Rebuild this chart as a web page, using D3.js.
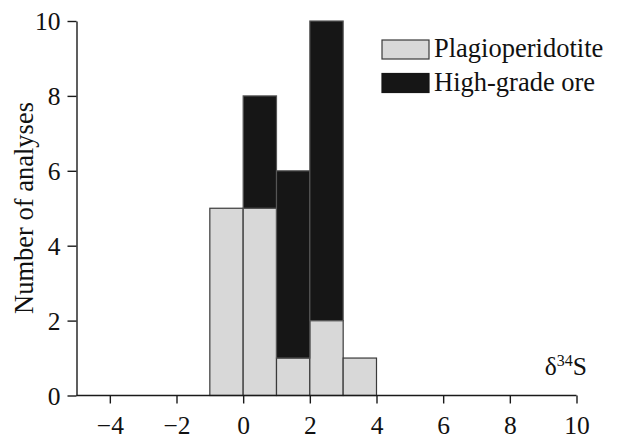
<!DOCTYPE html>
<html><head><meta charset="utf-8">
<script src="https://cdn.jsdelivr.net/npm/d3@7"></script>
<style>body{margin:0;background:#fff}svg{display:block}text{font-family:"Liberation Serif","Times New Roman",serif;fill:#111}</style>
</head><body>
<script>
const binStarts = [-1, 0, 1, 2, 3];
const binWidth = 1;
const plagioperidotite = [5, 5, 1, 2, 1];
const highGradeOre = [0, 3, 5, 8, 0];
const seriesNames = ["Plagioperidotite", "High-grade ore"];
const xTicks = [-4, -2, 0, 2, 4, 6, 8, 10];
const yTicks = [0, 2, 4, 6, 8, 10];

const W = 617, H = 438;
const svg = d3.select("body").append("svg").attr("width", W).attr("height", H);
const x = d3.scaleLinear().domain([-5, 10]).range([76.5, 576.5]);
const y = d3.scaleLinear().domain([0, 10]).range([395.5, 21]);
const colors = {"Plagioperidotite": "#d8d8d8", "High-grade ore": "#161616"};

const rows = binStarts.map((b, i) => ({x0: b, "Plagioperidotite": plagioperidotite[i], "High-grade ore": highGradeOre[i]}));
const stacked = d3.stack().keys(seriesNames)(rows);

stacked.forEach(s => {
  svg.append("g").selectAll("rect").data(s.filter(d => d[1] > d[0])).join("rect")
    .attr("x", d => x(d.data.x0))
    .attr("width", d => x(d.data.x0 + binWidth) - x(d.data.x0))
    .attr("y", d => y(d[1]))
    .attr("height", d => y(d[0]) - y(d[1]))
    .attr("fill", colors[s.key])
    .attr("stroke", s.key === "Plagioperidotite" ? "#3a3a3a" : "#555")
    .attr("stroke-width", 1.2);
});

const xAxis = svg.append("g").attr("transform", `translate(0,${y(0)})`)
  .call(d3.axisBottom(x).tickValues(xTicks).tickSize(8).tickSizeOuter(0).tickFormat(d => d < 0 ? "\u2212" + Math.abs(d) : d));
xAxis.select(".domain").attr("d", `M${x(-5)},0H${x(10)}`);
const yAxis = svg.append("g").attr("transform", `translate(${x(-5)},0)`)
  .call(d3.axisLeft(y).tickValues(yTicks).tickSize(9).tickSizeOuter(0));
[xAxis, yAxis].forEach(a => {
  a.selectAll(".domain, line").attr("stroke", "#1a1a1a").attr("stroke-width", 1.4);
  a.selectAll("text").attr("font-size", 25.5);
});
xAxis.selectAll("text").attr("dy", null).attr("y", 38);
yAxis.selectAll("text").attr("x", -16).attr("dy", "0.34em");

svg.append("text").attr("transform", "translate(33,208) rotate(-90)")
  .attr("text-anchor", "middle").attr("font-size", 26.5).text("Number of analyses");

const xl = svg.append("text").attr("x", 587).attr("y", 375).attr("text-anchor", "end").attr("font-size", 25.5);
xl.append("tspan").text("\u03B4");
xl.append("tspan").attr("font-size", 16).attr("dy", -9).text("34");
xl.append("tspan").attr("dy", 9).text("S");

const leg = svg.append("g");
seriesNames.forEach((n, i) => {
  const g = leg.append("g").attr("transform", `translate(382,${40 + i * 33.5})`);
  g.append("rect").attr("width", 47).attr("height", 19).attr("fill", colors[n]).attr("stroke", i === 0 ? "#3a3a3a" : colors[n]).attr("stroke-width", 1.2);
  g.append("text").attr("x", 52).attr("y", 17).attr("font-size", 26.5).text(n);
});
</script>
</body></html>
